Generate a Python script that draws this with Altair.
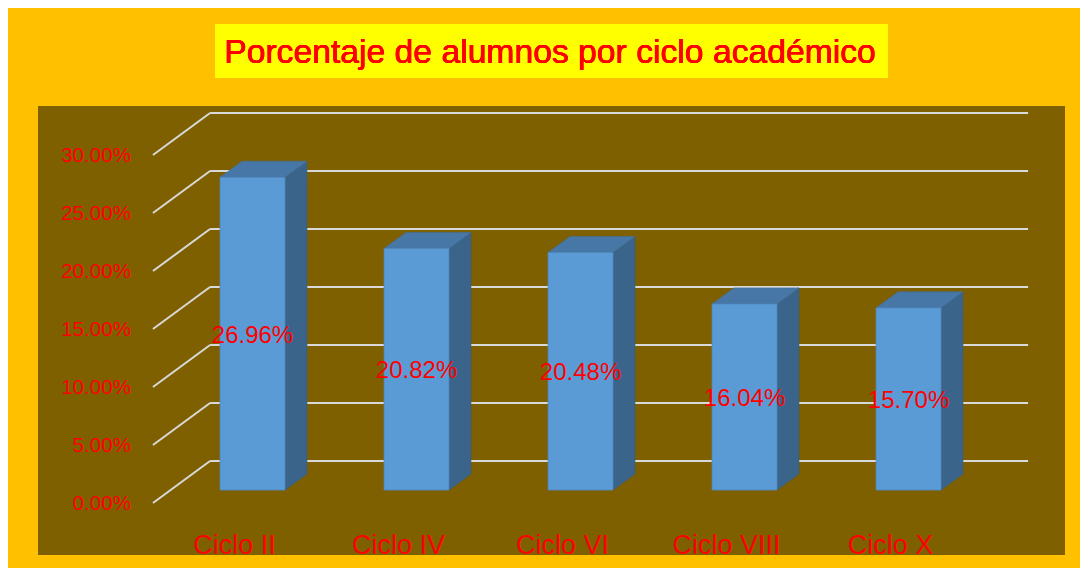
import altair as alt
import pandas as pd

# ---- data ----
categories = ["Ciclo II", "Ciclo IV", "Ciclo VI", "Ciclo VIII", "Ciclo X"]
values = [26.96, 20.82, 20.48, 16.04, 15.70]
value_labels = ["26.96%", "20.82%", "20.48%", "16.04%", "15.70%"]
ticks = [0, 5, 10, 15, 20, 25, 30]
tick_labels = ["0.00%", "5.00%", "10.00%", "15.00%", "20.00%", "25.00%", "30.00%"]
title_text = "Porcentaje de alumnos por ciclo académico"

# ---- 3D look (style constants, in scale units) ----
HALF = 0.198      # half bar width (category units)
DX = 0.134        # depth offset in x
DY = 1.38         # depth offset in y
G_BACK = 2.5      # back plane offset of gridlines
G_FRONT = -1.12   # front plane offset of gridlines
G_XF, G_XB, G_XE = -0.607, -0.259, 4.729
LBL_X = -0.741
XLBL_DX = -0.11
XLBL_Y = -5.52

X_DOM = [-1.308, 4.954]
Y_DOM = [-5.60, 33.10]

FONT = "Liberation Sans"
RED = "#FF0000"

bars = pd.DataFrame({
    "cat": categories,
    "idx": list(range(len(categories))),
    "val": values,
    "lbl": value_labels,
})
bars["x0"] = bars["idx"] - HALF
bars["x1"] = bars["idx"] + HALF
bars["mid"] = bars["val"] / 2
bars["lx"] = bars["idx"] + XLBL_DX
bars["ly"] = XLBL_Y

side_rows, top_rows = [], []
for _, r in bars.iterrows():
    side_rows.append({"cat": r["cat"], "sx": r["x1"], "sy0": 0.0, "sy1": r["val"]})
    side_rows.append({"cat": r["cat"], "sx": r["x1"] + DX, "sy0": DY, "sy1": r["val"] + DY})
    top_rows.append({"cat": r["cat"], "ty": r["val"], "tx0": r["x0"], "tx1": r["x1"]})
    top_rows.append({"cat": r["cat"], "ty": r["val"] + DY, "tx0": r["x0"] + DX, "tx1": r["x1"] + DX})
side = pd.DataFrame(side_rows)
top = pd.DataFrame(top_rows)

grid = pd.DataFrame({"t": ticks, "lab": tick_labels})
grid["yb"] = grid["t"] + G_BACK
grid["yf"] = grid["t"] + G_FRONT
grid["xf"] = G_XF
grid["xb"] = G_XB
grid["xe"] = G_XE
grid["lx"] = LBL_X

xs = alt.Scale(domain=X_DOM, nice=False, zero=False)
ys = alt.Scale(domain=Y_DOM, nice=False, zero=False)


def X(f):
    return alt.X(f, type="quantitative", scale=xs, axis=None)


def Y(f):
    return alt.Y(f, type="quantitative", scale=ys, axis=None)


GRID_COLOR = "#D9D9D9"

grid_back = alt.Chart(grid).mark_rule(color=GRID_COLOR, strokeWidth=2).encode(
    x=X("xb"), x2="xe", y=Y("yb"))
grid_slant = alt.Chart(grid).mark_rule(color=GRID_COLOR, strokeWidth=2).encode(
    x=X("xf"), x2="xb", y=Y("yf"), y2="yb")
ylabels = alt.Chart(grid).mark_text(
    align="right", baseline="middle", font=FONT, fontSize=20.6, fontWeight="normal",
    color=RED, dy=1
).encode(x=X("lx"), y=Y("yf"), text="lab:N")

front = alt.Chart(bars).mark_rect(
    color="#5B9BD5", stroke="#4F88C2", strokeWidth=0.8
).encode(x=X("x0"), x2="x1", y=Y("val"), y2=alt.Y2(datum=0))

side_face = alt.Chart(side).mark_area(
    color="#3A6489", orient="vertical", opacity=1, stroke="#375E80", strokeWidth=0.6
).encode(x=X("sx"), y=Y("sy0"), y2="sy1", detail="cat:N")

top_face = alt.Chart(top).mark_area(
    color="#4677A6", orient="horizontal", opacity=1, stroke="#416F9C", strokeWidth=0.6
).encode(y=Y("ty"), x=X("tx0"), x2="tx1", detail="cat:N")

data_labels = alt.Chart(bars).mark_text(
    align="center", baseline="middle", font=FONT, fontSize=24, fontWeight="normal",
    color=RED, dy=2
).encode(x=X("idx"), y=Y("mid"), text="lbl:N")

xlabels = alt.Chart(bars).mark_text(
    align="center", baseline="alphabetic", font=FONT, fontSize=27, fontWeight="normal",
    color=RED
).encode(x=X("lx"), y=Y("ly"), text="cat:N")

title_box = alt.Chart(bars).mark_rect(color="#FFFF00").encode(
    x=alt.value(177), x2=alt.value(850), y=alt.value(-82), y2=alt.value(-28))
title = alt.Chart(bars).mark_text(
    text=title_text, align="center", baseline="alphabetic", font=FONT,
    fontSize=33.7, fontWeight="normal", color=RED
).encode(x=alt.value(512), y=alt.value(-43))

chart = alt.layer(
    grid_back, grid_slant, ylabels, side_face, top_face, front,
    data_labels, xlabels, title_box, title
).properties(
    width=1027, height=449,
    autosize=alt.AutoSizeParams(type="none"),
    padding={"left": 30, "top": 98, "right": 15, "bottom": 13},
    background="#FFC000",
).configure_view(fill="#7F6000", stroke=None)

chart.save("out.html", embed_options={"renderer": "svg", "actions": False})
